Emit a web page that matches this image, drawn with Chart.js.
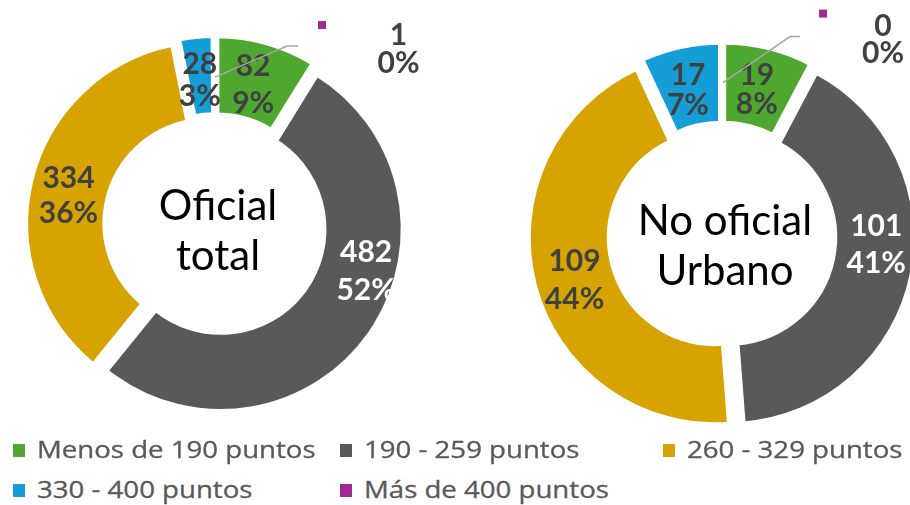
<!DOCTYPE html>
<html>
<head>
<meta charset="utf-8">
<script src="https://cdn.jsdelivr.net/npm/chart.js@4.4.1/dist/chart.umd.min.js"></script>
<style>
  html, body { margin: 0; padding: 0; width: 910px; height: 505px; overflow: hidden; background: #ffffff; }
  canvas { position: absolute; top: 0; }
  #leyenda .item { position: absolute; height: 28px; white-space: nowrap; }
  #leyenda .marca { position: absolute; left: 0; top: 9px; width: 12px; height: 13px; }
  #leyenda .texto {
    position: absolute; left: 24px; top: 0;
    font-family: 'Open Sans', sans-serif; font-size: 23px; line-height: 28px; color: #595959;
    -webkit-text-stroke: 0.3px #595959;
    transform: scaleX(1.2); transform-origin: 0 0;
  }
</style>
</head>
<body>
<canvas id="oficialChart" width="430" height="450" style="left:0px"></canvas>
<canvas id="noOficialChart" width="480" height="472" style="left:482px"></canvas>
<div id="leyenda"></div>
<script>
// Rangos de puntaje
const categorias = ['Menos de 190 puntos', '190 - 259 puntos', '260 - 329 puntos', '330 - 400 puntos', 'Más de 400 puntos'];
// Cantidades por rango
const valoresOficial = [82, 482, 334, 28, 1];
const valoresNoOficial = [19, 101, 109, 17, 0];
// Texto del centro
const tituloOficial = ['Oficial', 'total'];
const tituloNoOficial = ['No oficial', 'Urbano'];

const colores = ['#4EA72E', '#595959', '#D6A300', '#149DD6', '#A02B93'];
const EXPLOSION = 7;

// Ajustes de posición de etiquetas (px, relativos al centro del sector)
const estilos = {
  oficialChart: {
    titulo: tituloOficial, tituloDy: -5,
    ajustes: [[-3, 4], [29, -41], [-1, 7], [0, 4], [184, -26]],
    interlineado: [37, 38, 35, 32, 28],
    guia: [[0.5, 2], [72.5, -29], [83.5, -29]], marca: [107.5, -50]
  },
  noOficialChart: {
    titulo: tituloNoOficial, tituloDy: -1,
    ajustes: [[-2, 3], [4, -22], [1, 6], [-1, 4], [161, -43]],
    interlineado: [29, 37, 38, 30, 27],
    guia: [[1, 0], [68, -46], [78, -46]], marca: [101, -69]
  }
};

// Sectores separados (explosión)
const explotarPlugin = {
  id: 'explotar',
  beforeDatasetDraw(chart, args) {
    const ctx = chart.ctx;
    args.meta.data.forEach(arc => {
      const medio = (arc.startAngle + arc.endAngle) / 2;
      ctx.save();
      ctx.translate(Math.cos(medio) * EXPLOSION, Math.sin(medio) * EXPLOSION);
      arc.draw(ctx);
      ctx.restore();
    });
    return false;
  }
};

// Etiquetas de valor, porcentaje y título central
const etiquetasPlugin = {
  id: 'etiquetas',
  afterDatasetsDraw(chart) {
    const ctx = chart.ctx;
    const e = estilos[chart.canvas.id];
    const meta = chart.getDatasetMeta(0);
    const valores = chart.data.datasets[0].data;
    const total = valores.reduce((a, b) => a + b, 0);
    const ultimo = valores.length - 1;

    ctx.save();
    ctx.textAlign = 'center';
    ctx.textBaseline = 'middle';
    meta.data.forEach((arc, i) => {
      const p = arc.getCenterPoint();
      const medio = (arc.startAngle + arc.endAngle) / 2;
      const bx = p.x + Math.cos(medio) * EXPLOSION;
      const by = p.y + Math.sin(medio) * EXPLOSION;
      const x = bx + e.ajustes[i][0];
      const y = by + e.ajustes[i][1];
      const h = e.interlineado[i] / 2;

      if (i === ultimo) {
        // línea guía y marca de color
        ctx.strokeStyle = '#A6A6A6';
        ctx.lineWidth = 1.5;
        ctx.beginPath();
        e.guia.forEach((g, j) => {
          if (j === 0) ctx.moveTo(bx + g[0], by + g[1]);
          else ctx.lineTo(bx + g[0], by + g[1]);
        });
        ctx.stroke();
        ctx.fillStyle = colores[i];
        ctx.fillRect(bx + e.marca[0] - 4, by + e.marca[1] - 4, 8, 8);
      }

      ctx.fillStyle = i === 1 ? '#FFFFFF' : '#404040';
      ctx.font = 'bold 30px Lato';
      ctx.fillText(String(valores[i]), x, y - h);
      ctx.fillText(Math.round(valores[i] / total * 100) + '%', x, y + h);
    });

    const cx = (chart.chartArea.left + chart.chartArea.right) / 2;
    const cy = (chart.chartArea.top + chart.chartArea.bottom) / 2;
    ctx.fillStyle = '#000000';
    ctx.font = '42px Lato';
    ctx.textBaseline = 'alphabetic';
    ctx.fillText(e.titulo[0], cx + 3, cy + e.tituloDy);
    ctx.fillText(e.titulo[1], cx + 3, cy + e.tituloDy + 50);
    ctx.restore();
  }
};

function crearDona(id, valores, radio) {
  return new Chart(document.getElementById(id), {
    type: 'doughnut',
    data: {
      labels: categorias,
      datasets: [{
        data: valores,
        backgroundColor: colores,
        borderColor: '#FFFFFF',
        borderWidth: 5,
        hoverOffset: 0
      }]
    },
    options: {
      responsive: false,
      animation: false,
      events: [],
      radius: radio,
      cutout: '56.6%',
      plugins: {
        legend: { display: false },
        tooltip: { enabled: false }
      }
    },
    plugins: [explotarPlugin, etiquetasPlugin]
  });
}

const oficialChart = crearDona('oficialChart', valoresOficial, 182.5);
const noOficialChart = crearDona('noOficialChart', valoresNoOficial, 187);

// Leyenda común
const posLeyenda = [[13, 435], [340, 435], [663, 435], [13, 475], [340, 475]];
const leyenda = document.getElementById('leyenda');
categorias.forEach((cat, i) => {
  const item = document.createElement('div');
  item.className = 'item';
  item.style.left = posLeyenda[i][0] + 'px';
  item.style.top = posLeyenda[i][1] + 'px';
  const marca = document.createElement('span');
  marca.className = 'marca';
  marca.style.background = colores[i];
  const texto = document.createElement('span');
  texto.className = 'texto';
  texto.textContent = cat;
  item.appendChild(marca);
  item.appendChild(texto);
  leyenda.appendChild(item);
});
</script>
</body>
</html>
